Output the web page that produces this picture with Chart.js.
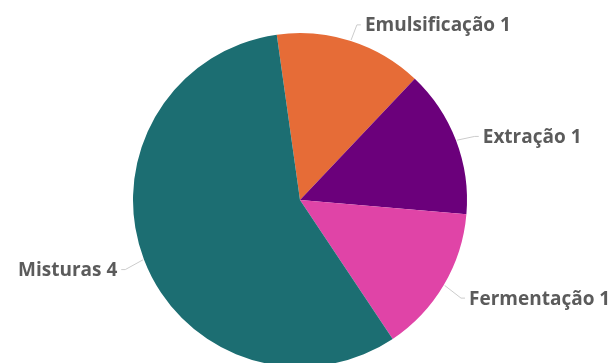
<!DOCTYPE html>
<html lang="pt-BR">
<head>
<meta charset="UTF-8">
<title>Processos</title>
<script src="https://cdn.jsdelivr.net/npm/chart.js"></script>
<style>
    html, body {
        margin: 0;
        padding: 0;
        background: #ffffff;
        overflow: hidden;
    }
    .wrap {
        width: 615px;
        height: 400px;
        position: relative;
    }
</style>
</head>
<body>
<div class="wrap">
    <canvas id="grafico"></canvas>
</div>
<script>
    const categorias = ['Emulsificação', 'Extração', 'Fermentação', 'Misturas'];
    const valores = [1, 1, 1, 4];
    const cores = ['#E66C37', '#6B007B', '#E044A7', '#1C6E72'];

    // rótulos externos com linha guia, no estilo de rótulo de detalhe
    const rotulosExternos = {
        id: 'rotulosExternos',
        afterDatasetsDraw(chart) {
            const ctx = chart.ctx;
            const meta = chart.getDatasetMeta(0);
            ctx.save();
            ctx.font = 'bold 19px "Open Sans", sans-serif';
            ctx.textBaseline = 'middle';
            meta.data.forEach((arc, i) => {
                const p = arc.getProps(['x', 'y', 'startAngle', 'endAngle', 'outerRadius'], true);
                const meio = (p.startAngle + p.endAngle) / 2;
                const cos = Math.cos(meio), sin = Math.sin(meio);
                const x0 = p.x + cos * (p.outerRadius + 1);
                const y0 = p.y + sin * (p.outerRadius + 1);
                const x1 = p.x + cos * (p.outerRadius + 20);
                const y1 = p.y + sin * (p.outerRadius + 20) + 3;
                const dir = cos >= 0 ? 1 : -1;
                const x2 = x1 + dir * 4;

                ctx.strokeStyle = '#cccccc';
                ctx.lineWidth = 1;
                ctx.beginPath();
                ctx.moveTo(x0, y0);
                ctx.lineTo(x1, y1);
                ctx.lineTo(x2, y1);
                ctx.stroke();

                ctx.fillStyle = '#5b5b5b';
                ctx.textAlign = dir > 0 ? 'left' : 'right';
                ctx.fillText(categorias[i] + ' ' + valores[i], x2 + dir * 4, y1 + 1);
            });
            ctx.restore();
        }
    };

    new Chart(document.getElementById('grafico'), {
        type: 'pie',
        data: {
            labels: categorias,
            datasets: [{
                data: valores,
                backgroundColor: cores,
                borderWidth: 0
            }]
        },
        options: {
            responsive: true,
            maintainAspectRatio: false,
            animation: false,
            rotation: -8,
            layout: { padding: { top: 33, bottom: 33, left: 0, right: 15 } },
            plugins: {
                legend: { display: false },
                tooltip: { enabled: false }
            },
            events: []
        },
        plugins: [rotulosExternos]
    });
</script>
</body>
</html>
